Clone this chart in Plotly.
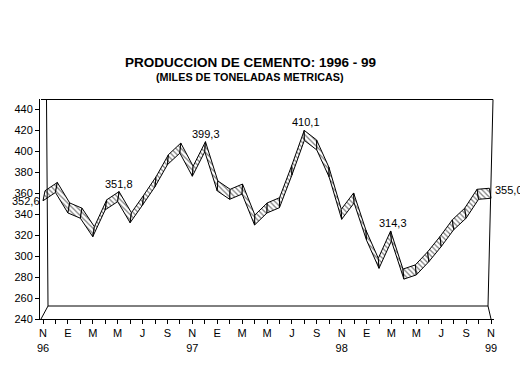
import plotly.graph_objects as go

# ---- data ----
months = ["Nov 96", "Dic 96", "Ene 97", "Feb 97", "Mar 97", "Abr 97", "May 97", "Jun 97",
          "Jul 97", "Ago 97", "Sep 97", "Oct 97", "Nov 97", "Dic 97", "Ene 98", "Feb 98",
          "Mar 98", "Abr 98", "May 98", "Jun 98", "Jul 98", "Ago 98", "Sep 98", "Oct 98",
          "Nov 98", "Dic 98", "Ene 99", "Feb 99", "Mar 99", "Abr 99", "May 99", "Jun 99",
          "Jul 99", "Ago 99", "Sep 99", "Oct 99", "Nov 99"]
values = [352.6, 360.5, 341, 336, 318.4, 344, 351.8, 331.7, 348.5, 366, 387, 398, 376,
          399.3, 362, 354, 359, 329.5, 341, 346, 377, 410.1, 401, 375, 335, 350.5, 315,
          288.3, 314.3, 278, 282, 294.5, 309, 325, 336, 354, 355.0]
tick_positions = list(range(0, 37, 2))
tick_labels = ["N<br>96", "E", "M", "M", "J", "S", "N<br>97", "E", "M", "M", "J", "S",
               "N<br>98", "E", "M", "M", "J", "S", "N<br>99"]
y_ticks = [240, 260, 280, 300, 320, 340, 360, 380, 400, 420, 440]
labeled = [6, 13, 21, 28]

FONT = "Liberation Sans, Arial, sans-serif"
PAGE = 8  # default body margin of the html page
W, H = 528, 380
L, R, T, B = 40, 34, 99, 61
PX_PER_MONTH = 448 / 36.0
PX_PER_UNIT = 1.05
PW = W - L - R
PH = H - T - B
x0 = -3 / PX_PER_MONTH
x1 = 36 + 3 / PX_PER_MONTH
y0 = 240
y1 = 240 + PH / PX_PER_UNIT


def px(x, y):
    return (x - L) / PW, (H - B - y) / PH


def fmt(v):
    return ("%.1f" % v).replace(".", ",")


fig = go.Figure()

xs = list(range(len(values)))


def back(i):
    dx = (2.0 - 0.1 * i) / PX_PER_MONTH
    dy = 10.0 / PX_PER_UNIT
    return xs[i] + dx, values[i] + dy


for i in range(len(values) - 1):
    bx0, by0 = back(i)
    bx1, by1 = back(i + 1)
    qx = [xs[i], xs[i + 1], bx1, bx0, xs[i]]
    qy = [values[i], values[i + 1], by1, by0, values[i]]
    fig.add_trace(go.Scatter(
        x=qx, y=qy, mode="lines", fill="toself",
        fillcolor="white",
        fillpattern=dict(shape="\\", fgcolor="black", bgcolor="white", size=3.6, solidity=0.35),
        line=dict(color="black", width=1),
        hoverinfo="skip", showlegend=False))

shapes = []


def seg(a, b, c, d):
    p, q = px(a, b)
    r, s = px(c, d)
    shapes.append(dict(type="line", xref="paper", yref="paper", x0=p, y0=q, x1=r, y1=s,
                       line=dict(color="black", width=1)))


seg(41, 99.5, 493, 99.5)     # back wall top
seg(46.5, 99.5, 48, 306)     # back left edge
seg(48, 306, 488, 306)       # floor back edge
seg(41, 319, 48, 306)        # floor left slant
seg(493, 99.5, 488, 306)     # back right edge
seg(488, 306, 491, 319)      # floor right slant

annotations = []
for i in labeled:
    annotations.append(dict(x=xs[i] + 0.12, y=values[i], xref="x", yref="y", text=fmt(values[i]),
                            showarrow=False, yanchor="middle", yshift=18,
                            font=dict(family=FONT, size=11, color="black")))
annotations.append(dict(x=xs[0], y=values[0], xref="x", yref="y", text=fmt(values[0]),
                        showarrow=False, xanchor="right", yanchor="middle", xshift=-1,
                        font=dict(family=FONT, size=11, color="black")))
annotations.append(dict(x=xs[-1], y=values[-1], xref="x", yref="y", text=fmt(values[-1]),
                        showarrow=False, xanchor="left", yanchor="middle", xshift=2, yshift=8,
                        font=dict(family=FONT, size=11, color="black")))

tx, ty = px(250, 53)
annotations.append(dict(x=tx, y=ty, xref="paper", yref="paper", showarrow=False,
                        text="<b>PRODUCCION DE CEMENTO: 1996 - 99</b>",
                        font=dict(family=FONT, size=13.5, color="black")))
sx, sy = px(250, 69)
annotations.append(dict(x=sx, y=sy, xref="paper", yref="paper", showarrow=False,
                        text="<b>(MILES DE TONELADAS METRICAS)</b>",
                        font=dict(family=FONT, size=10.8, color="black")))

fig.update_layout(
    width=W - PAGE, height=H - PAGE, autosize=False,
    margin=dict(l=L - PAGE, r=R, t=T - PAGE, b=B, pad=0),
    paper_bgcolor="white", plot_bgcolor="white",
    shapes=shapes, annotations=annotations, showlegend=False,
    xaxis=dict(range=[x0, x1], tickmode="array", tickvals=tick_positions, ticktext=tick_labels,
               ticks="outside", ticklen=4, tickcolor="black", showline=True, linecolor="black",
               linewidth=1, showgrid=False, zeroline=False, automargin=False,
               minor=dict(tickmode="linear", tick0=0, dtick=1, ticks="outside", ticklen=4,
                          tickcolor="black", showgrid=False),
               tickfont=dict(family=FONT, size=11, color="black")),
    yaxis=dict(range=[y0, y1], tickmode="array", tickvals=y_ticks, ticks="outside", ticklen=4,
               tickcolor="black", showline=True, linecolor="black", linewidth=1,
               showgrid=False, zeroline=False, automargin=False,
               tickfont=dict(family=FONT, size=11, color="black")),
)

fig.write_html("out.html")
